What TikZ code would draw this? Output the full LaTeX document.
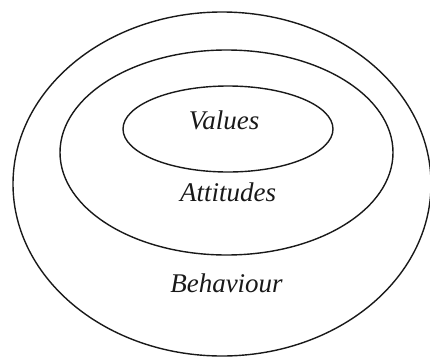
\documentclass[tikz,border=0pt]{standalone}
\usepackage{fontspec}
\setmainfont{Liberation Serif}
\begin{document}
\begin{tikzpicture}[x=1pt,y=-1pt,
  ring/.style={draw=black!90,line width=1.4pt},
  lbl/.style={font=\fontsize{27}{31}\selectfont\itshape,text=black!90,anchor=base,inner sep=0pt}]
\useasboundingbox (0,0) rectangle (430,356);
\begin{scope}
\clip (0,0) rectangle (430,356);
\draw[ring] (222,184) ellipse [x radius=209, y radius=172];
\end{scope}
\draw[ring] (226.5,152.5) ellipse [x radius=166.5, y radius=102.5];
\draw[ring] (228,129) ellipse [x radius=105, y radius=43];
\node[lbl] (values) at (224,129.3) {Values};
\node[lbl] (attitudes) at (228,201) {Attitudes};
\node[lbl] (behaviour) at (226.5,292.7) {Behaviour};
\end{tikzpicture}
\end{document}
